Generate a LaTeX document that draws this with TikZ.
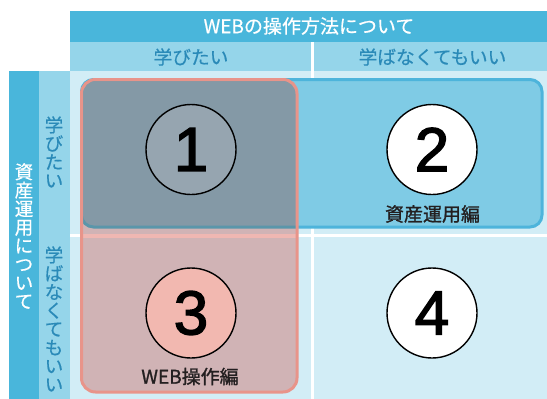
\documentclass[tikz,border=0pt]{standalone}
\usepackage{fontspec}
\setmainfont{Liberation Sans}
\newfontfamily\numfont{Liberation Sans}[FakeBold=2.2]
\newfontfamily\jp{Noto Sans CJK JP}
\newfontfamily\jpm{Noto Sans CJK JP}[FakeBold=1.2]
\newfontfamily\jps{Noto Sans CJK JP}[FakeBold=0.5]
\definecolor{hdark}{HTML}{49B6DB}
\definecolor{hlight}{HTML}{95D5EA}
\definecolor{mainbg}{HTML}{D2EDF6}
\definecolor{bluefill}{HTML}{7FCBE5}
\definecolor{blueborder}{HTML}{4DB4DB}
\definecolor{redfill}{HTML}{D0B3B5}
\definecolor{overfill}{HTML}{8499A6}
\definecolor{overborder}{HTML}{5A96AA}
\definecolor{pinkband}{HTML}{EFB7B2}
\definecolor{redborder}{HTML}{E8948A}
\definecolor{txtblue}{HTML}{2A8AB8}
\definecolor{circgray}{HTML}{96A5B0}
\definecolor{circpink}{HTML}{F2B8B0}
\definecolor{labeltxt}{HTML}{231F20}
\tikzset{
  numcirc/.style={circle, draw=black, line width=1.4pt, minimum size=90pt, inner sep=0pt,
    font=\numfont\fontsize{62}{62}\selectfont, text=black},
  hdrtxt/.style={font=\jps\fontsize{19}{19}\selectfont, text=white, inner sep=0pt},
  coltxt/.style={font=\jps\fontsize{18.7}{18.7}\selectfont, text=txtblue, inner sep=0pt},
  vtxt/.style={font=\jps\fontsize{18.5}{18.5}\selectfont, align=center, inner sep=0pt},
  boxlabel/.style={font=\jpm\fontsize{19}{19}\selectfont, text=labeltxt, inner sep=0pt},
}
\begin{document}
\begin{tikzpicture}[x=1pt,y=-1pt]
\useasboundingbox (0,0) rectangle (547,399);
% header rows
\fill[hdark] (70,10.5) rectangle (547,42);
\fill[hlight] (70,42) rectangle (547,71);
% left columns
\fill[hdark] (9,71) rectangle (39,399);
\fill[hlight] (39,71) rectangle (70,399);
% main area
\fill[mainbg] (70,71) rectangle (547,399);
% white grid lines
\fill[white] (310.5,42) rectangle (313.5,399);
\fill[white] (70,233.5) rectangle (547,236.5);
% blue box
\fill[bluefill, rounded corners=12] (81.5,79.5) rectangle (542,227);
\draw[blueborder, line width=3pt, rounded corners=12] (81.5,79.5) rectangle (542,227);
% red box (translucent look)
\fill[redfill, rounded corners=14] (81.5,79.5) rectangle (297,392);
\begin{scope}
  \clip[rounded corners=14] (81.5,79.5) rectangle (297,392);
  \fill[overfill, rounded corners=12] (81.5,79.5) rectangle (542,227);
  \draw[overborder, line width=3pt, rounded corners=12] (81.5,79.5) rectangle (542,227);
  \fill[pinkband] (80,233.5) rectangle (298,237.5);
\end{scope}
\draw[redborder, line width=3pt, rounded corners=14] (81.5,79.5) rectangle (297,392);
% texts
\node[hdrtxt] (hdr) at (309,26) {WEBの操作方法について};
\node[coltxt] (c1) at (191,57) {学びたい};
\node[coltxt] (c2) at (432.5,57) {学ばなくてもいい};
\node[vtxt, text=white] (vl) at (24,236) {資\\産\\運\\用\\に\\つ\\い\\て};
\node[vtxt, text=txtblue] (r1) at (54,152) {学\\び\\た\\い};
\node[vtxt, text=txtblue] (r2) at (54,319) {学\\ば\\な\\く\\て\\も\\い\\い};
% circles
\node[numcirc, fill=circgray] (n1) at (191,149.5) {1};
\node[numcirc, fill=white] (n2) at (432,149.5) {2};
\node[numcirc, fill=circpink] (n3) at (191,313) {3};
\node[numcirc, fill=white] (n4) at (432,313) {4};
\node[boxlabel] (l2) at (432.5,214) {資産運用編};
\node[boxlabel] (l3) at (190,376.5) {WEB操作編};
\end{tikzpicture}
\end{document}
